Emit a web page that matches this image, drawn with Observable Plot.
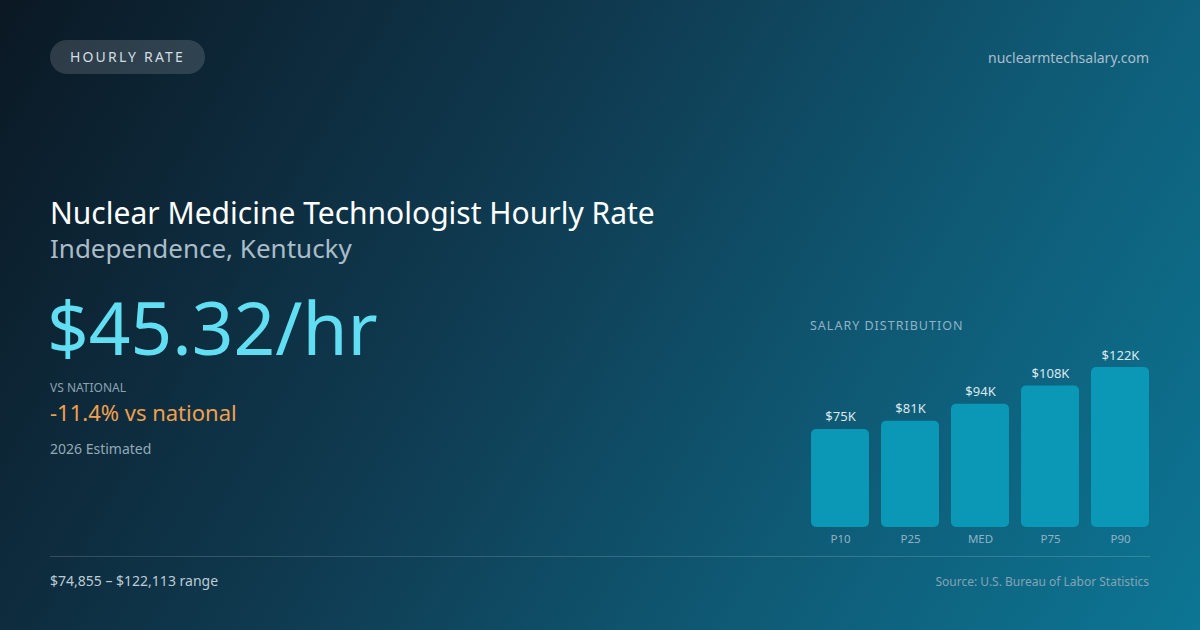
<!DOCTYPE html>
<html>
<head>
<meta charset="utf-8">
<script src="https://cdn.jsdelivr.net/npm/d3@7"></script>
<script src="https://cdn.jsdelivr.net/npm/@observablehq/plot@0.6"></script>
<style>
  html, body { margin: 0; padding: 0; }
  body {
    width: 1200px; height: 630px; overflow: hidden; position: relative;
    font-family: "Noto Sans", "Open Sans", sans-serif;
    background: linear-gradient(120deg, #0b1824 0%, #0f3a50 40%, #0f5a75 70%, #0c7694 100%);
  }
  .abs { position: absolute; white-space: nowrap; }
  .pill {
    left: 50px; top: 40px; width: 155px; height: 34px; border-radius: 17px;
    background: rgba(255,255,255,0.14); color: #d3dde4; font-size: 14px;
    letter-spacing: 2.2px; line-height: 34px; text-align: center;
  }
  #site { right: 51px; top: 48px; font-size: 14px; color: #a9bfcc; }
  #title { left: 50px; top: 193px; font-size: 30px; color: #ffffff; line-height: 1.3; }
  #subtitle { left: 50px; top: 232px; font-size: 26px; color: #a9bcc8; line-height: 1.3; }
  #big { left: 47px; top: 283px; font-size: 73px; color: #62def3; line-height: 1.2; }
  #vsl { left: 50px; top: 379px; font-size: 12px; color: #8ca3b1; }
  #vs { left: 50px; top: 397px; font-size: 22px; color: #f0a04e; }
  #est { left: 50px; top: 439px; font-size: 14px; color: #93a9b6; }
  #dist { left: 810px; top: 317px; font-size: 12.5px; color: #8fb3c4; letter-spacing: 1px; }
  #rule { left: 50px; top: 556px; width: 1100px; height: 1px; background: rgba(255,255,255,0.16); }
  #range { left: 50px; top: 571px; font-size: 14px; color: #bccbd5; }
  #src { right: 51px; top: 573px; font-size: 12px; color: #86a3b3; }
  #chart { left: 810px; top: 340px; }
</style>
</head>
<body>
<div class="abs pill">HOURLY RATE</div>
<div class="abs" id="site">nuclearmtechsalary.com</div>
<div class="abs" id="title">Nuclear Medicine Technologist Hourly Rate</div>
<div class="abs" id="subtitle">Independence, Kentucky</div>
<div class="abs" id="big">$45.32/hr</div>
<div class="abs" id="vsl">VS NATIONAL</div>
<div class="abs" id="vs">-11.4% vs national</div>
<div class="abs" id="est">2026 Estimated</div>
<div class="abs" id="dist">SALARY DISTRIBUTION</div>
<div class="abs" id="rule"></div>
<div class="abs" id="range">$74,855 – $122,113 range</div>
<div class="abs" id="src">Source: U.S. Bureau of Labor Statistics</div>
<div class="abs" id="chart"></div>
<script>
const percentiles = ["P10", "P25", "MED", "P75", "P90"];
const salaries = [74855, 81000, 94000, 108000, 122113];
const valueLabels = ["$75K", "$81K", "$94K", "$108K", "$122K"];

const data = percentiles.map((p, i) => ({p, v: salaries[i], label: valueLabels[i]}));

const chart = Plot.plot({
  width: 340,
  height: 215,
  marginTop: 27,
  marginBottom: 28,
  marginLeft: 0,
  marginRight: 0,
  style: {background: "transparent", fontFamily: "Noto Sans, sans-serif", overflow: "visible"},
  x: {domain: percentiles, paddingInner: 0.177, paddingOuter: 0, label: null},
  y: {domain: [0, 122113], axis: null},
  marks: [
    Plot.barY(data, {x: "p", y: "v", fill: "#0b98b6", rx: 5, inset: 0}),
    Plot.text(data, {x: "p", y: "v", text: "label", dy: -8, lineAnchor: "bottom", fill: "#dbe8ee", fontSize: 13}),
    Plot.axisX({tickSize: 0, tickPadding: 7, fontSize: 11.5, color: "#8fb3c4", label: null})
  ]
});
chart.querySelectorAll("[aria-label='x-axis tick label'] text").forEach(t => t.setAttribute("fill", "#8fb3c4"));
document.getElementById("chart").appendChild(chart);
</script>
</body>
</html>
